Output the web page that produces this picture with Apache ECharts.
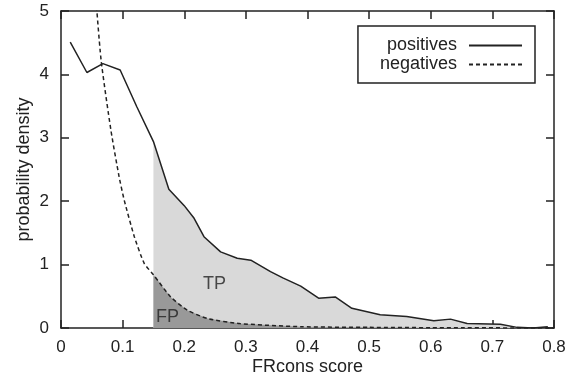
<!DOCTYPE html>
<html>
<head>
<meta charset="utf-8">
<script src="https://cdn.jsdelivr.net/npm/echarts@6/dist/echarts.min.js"></script>
<style>
  html, body { margin: 0; padding: 0; background: #fff; }
  #main { width: 581px; height: 383px; }
</style>
</head>
<body>
<div id="main"></div>
<script>
// density curves, [score, density]
var positives = [
    [0.015, 4.51], [0.042, 4.03], [0.068, 4.17], [0.096, 4.07], [0.123, 3.49],
    [0.15, 2.94], [0.175, 2.19], [0.2, 1.93], [0.216, 1.73], [0.232, 1.44],
    [0.259, 1.2], [0.286, 1.1], [0.308, 1.07], [0.34, 0.89], [0.36, 0.79],
    [0.389, 0.66], [0.418, 0.47], [0.445, 0.49], [0.472, 0.31], [0.518, 0.21],
    [0.561, 0.18], [0.605, 0.115], [0.632, 0.14], [0.659, 0.07], [0.713, 0.06],
    [0.74, 0.01], [0.766, 0.0], [0.79, 0.02]
];
var negatives = [
    [0.055, 5.4], [0.065, 4.23], [0.081, 3.12], [0.094, 2.4], [0.1025, 2.02],
    [0.119, 1.44], [0.135, 1.02], [0.15, 0.84], [0.178, 0.49], [0.205, 0.28],
    [0.2375, 0.15], [0.29, 0.07], [0.39, 0.02], [0.5, 0.01], [0.6, 0.005], [0.8, 0.0]
];
var threshold = 0.15;
var regionLabels = [
    { name: 'TP', value: [0.249, 0.69] },
    { name: 'FP', value: [0.173, 0.17] }
];

var font = 'Liberation Sans, Arial, Helvetica, sans-serif';
var above = function (arr) {
    return arr.filter(function (p) { return p[0] >= threshold; });
};

var axisLine = { show: true, onZero: false, lineStyle: { color: '#222', width: 1.5 } };
var tick = { show: true, inside: true, length: 8, lineStyle: { color: '#222', width: 1.5 } };

var myChart = echarts.init(document.getElementById('main'));

var option = {
    animation: false,
    backgroundColor: '#fff',
    grid: { left: 61, right: 27, top: 11, bottom: 55 },
    legend: {
        data: ['positives', 'negatives'],
        orient: 'vertical',
        align: 'right',
        right: 46,
        top: 26,
        padding: [10, 12, 9, 22],
        itemWidth: 53,
        itemHeight: 14,
        itemGap: 0,
        borderColor: '#222',
        borderWidth: 1.5,
        itemStyle: { opacity: 0 },
        textStyle: {
            fontFamily: font, fontSize: 18, color: '#222',
            lineHeight: 19, padding: [0, 7, 0, 0]
        }
    },
    xAxis: [{
        type: 'value',
        min: 0, max: 0.8, interval: 0.1,
        name: 'FRcons score',
        nameLocation: 'middle',
        nameGap: 30,
        nameMoveOverlap: false,
        nameTextStyle: { fontFamily: font, fontSize: 18, color: '#222' },
        axisLine: axisLine,
        axisTick: tick,
        splitLine: { show: false },
        axisLabel: { fontFamily: font, fontSize: 17, color: '#222', margin: 11 }
    }, {
        type: 'value',
        position: 'top',
        min: 0, max: 0.8, interval: 0.1,
        axisLine: axisLine,
        axisTick: tick,
        splitLine: { show: false },
        axisLabel: { show: false }
    }],
    yAxis: [{
        type: 'value',
        min: 0, max: 5, interval: 1,
        name: 'probability density',
        nameLocation: 'middle',
        nameGap: 28,
        nameMoveOverlap: false,
        nameTextStyle: { fontFamily: font, fontSize: 18, color: '#222' },
        axisLine: axisLine,
        axisTick: tick,
        splitLine: { show: false },
        axisLabel: { fontFamily: font, fontSize: 17, color: '#222', margin: 12 }
    }, {
        type: 'value',
        position: 'right',
        min: 0, max: 5, interval: 1,
        axisLine: axisLine,
        axisTick: tick,
        splitLine: { show: false },
        axisLabel: { show: false }
    }],
    series: [{
        name: 'TP',
        type: 'line',
        data: above(positives),
        symbol: 'none',
        lineStyle: { width: 0 },
        areaStyle: { color: '#d9d9d9', opacity: 1 },
        z: 1
    }, {
        name: 'FP',
        type: 'line',
        data: above(negatives),
        symbol: 'none',
        lineStyle: { width: 0 },
        areaStyle: { color: '#999999', opacity: 1 },
        z: 2
    }, {
        name: 'positives',
        type: 'line',
        data: positives,
        symbol: 'none',
        itemStyle: { color: '#222' },
        lineStyle: { color: '#222', width: 1.5 },
        z: 4
    }, {
        name: 'negatives',
        type: 'line',
        data: negatives,
        symbol: 'none',
        smooth: 0.2,
        itemStyle: { color: '#222' },
        lineStyle: { color: '#222', width: 1.5, type: [4, 3] },
        z: 4
    }, {
        name: 'labels',
        type: 'scatter',
        data: regionLabels,
        symbolSize: 0,
        label: {
            show: true,
            position: 'inside',
            formatter: '{b}',
            fontFamily: font,
            fontSize: 18,
            color: '#222'
        },
        z: 5
    }]
};

myChart.setOption(option);
</script>
</body>
</html>
